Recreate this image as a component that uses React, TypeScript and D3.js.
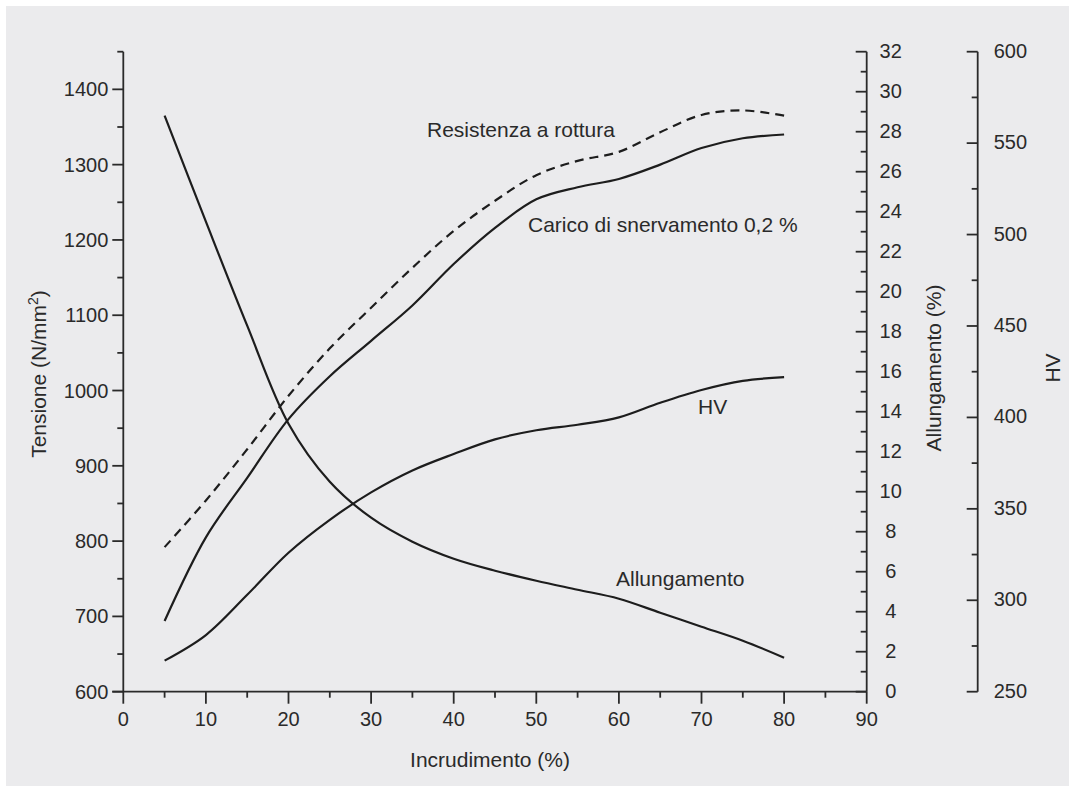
import React, { useEffect, useRef } from "react";
import * as d3 from "d3";

// incrudimento (%) - same x for every curve
const incrudimento = [5, 10, 15, 20, 25, 30, 35, 40, 45, 50, 55, 60, 65, 70, 75, 80];
// N/mm2, left axis
const resistenzaRottura = [792, 854, 922, 993, 1056, 1110, 1163, 1212, 1252, 1286, 1305, 1317, 1343, 1366, 1372, 1365];
const caricoSnervamento = [694, 805, 884, 962, 1019, 1066, 1113, 1168, 1216, 1254, 1270, 1281, 1300, 1322, 1335, 1340];
// %, first right axis
const allungamento = [28.8, 23.5, 18.3, 13.4, 10.5, 8.7, 7.5, 6.65, 6.05, 5.55, 5.1, 4.65, 3.95, 3.25, 2.55, 1.7];
// HV, second right axis
const durezza = [267, 281, 303, 326, 344, 359, 371, 380, 388, 393, 396, 400, 408, 415, 420, 422];

const leftTicks = [600, 700, 800, 900, 1000, 1100, 1200, 1300, 1400];
const allTicks = [0, 2, 4, 6, 8, 10, 12, 14, 16, 18, 20, 22, 24, 26, 28, 30, 32];
const hvTicks = [250, 300, 350, 400, 450, 500, 550, 600];
const xTicksMajor = [0, 10, 20, 30, 40, 50, 60, 70, 80, 90];

const W = 1069;
const H = 787;
const ink = "#2a2a2a";
const font = "'Liberation Sans', Arial, Helvetica, sans-serif";

const App = () => {
  const ref = useRef<any>(null);

  useEffect(() => {
    const svg = d3.select(ref.current);
    svg.selectAll("*").remove();

    const top = 51.7;
    const bottom = 691.7;

    var x = d3.scaleLinear().domain([0, 90]).range([123.3, 866.7]);
    var yT = d3.scaleLinear().domain([600, 1450]).range([bottom, top]);
    var yA = d3.scaleLinear().domain([0, 32]).range([bottom, top]);
    var yH = d3.scaleLinear().domain([250, 600]).range([bottom, top]);

    // panel
    svg.append("rect").attr("width", W).attr("height", H).attr("fill", "#fff");
    svg
      .append("rect")
      .attr("x", 6)
      .attr("y", 6)
      .attr("width", W - 6)
      .attr("height", 780)
      .attr("fill", "#ebebed");

    const g = svg
      .append("g")
      .style("font-family", font)
      .style("font-size", "20px")
      .attr("fill", ink);

    const line = (x1: number, y1: number, x2: number, y2: number) =>
      g
        .append("line")
        .attr("x1", x1)
        .attr("y1", y1)
        .attr("x2", x2)
        .attr("y2", y2)
        .attr("stroke", ink)
        .attr("stroke-width", 1.8);

    // ---- left axis (Tensione)
    const x0 = x(0);
    line(x0, yT(1450), x0, yT(600));
    d3.range(600, 1451, 50).forEach((v) => {
      const major = v % 100 === 0;
      line(x0 - (major ? 11 : 6), yT(v), x0, yT(v));
    });
    g.selectAll(".lt")
      .data(leftTicks)
      .enter()
      .append("text")
      .attr("x", x0 - 15)
      .attr("y", (d) => yT(d))
      .attr("dy", "0.35em")
      .attr("text-anchor", "end")
      .text((d) => d);

    // ---- bottom axis
    line(x0 - 11, bottom, x(90), bottom);
    d3.range(0, 91, 5).forEach((v) => {
      const major = v % 10 === 0;
      line(x(v), bottom, x(v), bottom + (major ? 12 : 6));
    });
    g.selectAll(".bt")
      .data(xTicksMajor)
      .enter()
      .append("text")
      .attr("x", (d) => x(d))
      .attr("y", 726)
      .attr("text-anchor", "middle")
      .text((d) => d);

    // ---- Allungamento axis
    const xa = x(90);
    line(xa, top, xa, bottom);
    d3.range(0, 33, 1).forEach((v) => {
      const major = v % 2 === 0;
      line(xa - (major ? 11 : 6), yA(v), xa, yA(v));
    });
    g.selectAll(".at")
      .data(allTicks)
      .enter()
      .append("text")
      .attr("x", xa + 24)
      .attr("y", (d) => yA(d))
      .attr("dy", "0.3em")
      .attr("text-anchor", "middle")
      .text((d) => d);

    // ---- HV axis
    const xh = 977.7;
    line(xh, top, xh, bottom);
    d3.range(250, 601, 25).forEach((v) => {
      const major = v % 50 === 0;
      line(xh - (major ? 11 : 6), yH(v), xh, yH(v));
    });
    g.selectAll(".ht")
      .data(hvTicks)
      .enter()
      .append("text")
      .attr("x", xh + 16)
      .attr("y", (d) => yH(d))
      .attr("dy", "0.3em")
      .text((d) => d);

    // ---- axis titles
    g.append("text")
      .attr("x", 490)
      .attr("y", 767)
      .attr("text-anchor", "middle")
      .style("font-size", "21px")
      .text("Incrudimento (%)");

    const tens = g
      .append("text")
      .attr("transform", "translate(46,374) rotate(-90)")
      .attr("text-anchor", "middle")
      .style("font-size", "21px");
    tens.append("tspan").text("Tensione (N/mm");
    tens.append("tspan").attr("dy", -8).style("font-size", "14px").text("2");
    tens.append("tspan").attr("dy", 8).text(")");

    g.append("text")
      .attr("transform", "translate(941,368) rotate(-90)")
      .attr("text-anchor", "middle")
      .style("font-size", "21px")
      .text("Allungamento (%)");

    g.append("text")
      .attr("transform", "translate(1060,368) rotate(-90)")
      .attr("text-anchor", "middle")
      .style("font-size", "21px")
      .text("HV");

    // ---- curves
    const series: { vals: number[]; y: any; dash?: string }[] = [
      { vals: resistenzaRottura, y: yT, dash: "9,6" },
      { vals: caricoSnervamento, y: yT },
      { vals: allungamento, y: yA },
      { vals: durezza, y: yH },
    ];
    series.forEach((s) => {
      const gen = d3
        .line<number>()
        .x((_, i) => x(incrudimento[i]))
        .y((d) => s.y(d))
        .curve(d3.curveCatmullRom.alpha(0.5));
      g.append("path")
        .attr("d", gen(s.vals))
        .attr("fill", "none")
        .attr("stroke", "#1d1d1d")
        .attr("stroke-width", 2.2)
        .attr("stroke-dasharray", s.dash || null);
    });

    // ---- curve labels
    const labels = [
      { t: "Resistenza a rottura", x: 427, y: 137 },
      { t: "Carico di snervamento 0,2 %", x: 528, y: 231.5 },
      { t: "HV", x: 698, y: 414 },
      { t: "Allungamento", x: 616, y: 585.5 },
    ];
    g.selectAll(".lab")
      .data(labels)
      .enter()
      .append("text")
      .attr("x", (d) => d.x)
      .attr("y", (d) => d.y)
      .style("font-size", "21px")
      .text((d) => d.t);
  }, []);

  return (
    <div style={{ position: "absolute", left: 0, top: 0 }}>
      <svg ref={ref} width={W} height={H} style={{ display: "block" }}></svg>
    </div>
  );
};

export default App;
